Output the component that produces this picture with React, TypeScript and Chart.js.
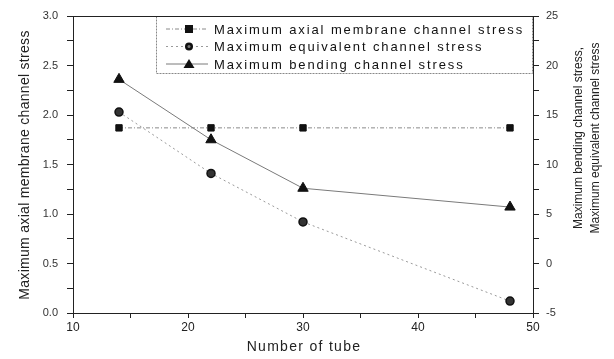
import React, { useEffect, useRef } from "react";
import { Chart, registerables } from "chart.js";

Chart.register(...registerables);

const tubes = [14, 22, 30, 48];
const axialMembrane = [1.87, 1.87, 1.87, 1.87];
const equivalentStress = [15.3, 9.1, 4.2, -3.8];
const bendingStress = [18.6, 12.5, 7.6, 5.7];

const seriesLabels = [
  "Maximum axial membrane channel stress",
  "Maximum equivalent channel stress",
  "Maximum bending channel stress",
];

const xTitle = "Number of tube";
const yLeftTitle = "Maximum axial membrane channel stress";
const yRightTitle = ["Maximum bending channel stress,", "Maximum equivalent channel stress"];

const FONT = "'Liberation Sans', Arial, sans-serif";

const legendPlugin = {
  id: "insideLegend",
  afterDraw(chart: any) {
    const { ctx, chartArea } = chart;
    const x0 = chartArea.left + 83;
    const y0 = chartArea.top;
    const w = chartArea.right - x0 - 1;
    const h = 57;
    ctx.save();
    ctx.strokeStyle = "#888";
    ctx.lineWidth = 1;
    ctx.setLineDash([2, 1]);
    ctx.strokeRect(x0 + 0.5, y0 + 0.5, w, h);
    ctx.setLineDash([]);
    chart.data.datasets.forEach((ds: any, i: number) => {
      const y = y0 + 13 + i * 17.5;
      ctx.strokeStyle = ds.borderColor;
      ctx.lineWidth = 1;
      ctx.setLineDash(ds.borderDash || []);
      ctx.beginPath();
      ctx.moveTo(x0 + 10, y);
      ctx.lineTo(x0 + 52, y);
      ctx.stroke();
      ctx.setLineDash([]);
      ctx.fillStyle = "#111";
      const cx = x0 + 33;
      if (ds.pointStyle === "rect") {
        ctx.fillRect(cx - 4, y - 4, 8, 8);
      } else if (ds.pointStyle === "triangle") {
        ctx.beginPath();
        ctx.moveTo(cx, y - 5);
        ctx.lineTo(cx + 5.5, y + 4);
        ctx.lineTo(cx - 5.5, y + 4);
        ctx.closePath();
        ctx.fill();
      } else {
        ctx.beginPath();
        ctx.arc(cx, y, 4, 0, Math.PI * 2);
        ctx.fill();
        ctx.fillStyle = "#777";
        ctx.beginPath();
        ctx.arc(cx, y, 1.5, 0, Math.PI * 2);
        ctx.fill();
      }
      ctx.fillStyle = "#111";
      ctx.font = `13px ${FONT}`;
      (ctx as any).letterSpacing = "1.9px";
      ctx.textBaseline = "middle";
      ctx.textAlign = "left";
      ctx.fillText(ds.label, x0 + 58, y + 1);
      (ctx as any).letterSpacing = "0px";
    });
    ctx.restore();
  },
};

const framePlugin = {
  id: "frameAndTitles",
  afterDraw(chart: any) {
    const { ctx, chartArea } = chart;
    ctx.save();
    ctx.strokeStyle = "#222";
    ctx.lineWidth = 1;
    ctx.beginPath();
    ctx.moveTo(chartArea.left, chartArea.top + 0.5);
    ctx.lineTo(chartArea.right, chartArea.top + 0.5);
    ctx.stroke();

    ctx.fillStyle = "#222";
    ctx.textAlign = "center";
    ctx.textBaseline = "middle";
    // x title
    ctx.font = `14px ${FONT}`;
    (ctx as any).letterSpacing = "1.3px";
    ctx.fillText(xTitle, 304, 347);
    // left title
    (ctx as any).letterSpacing = "0.3px";
    ctx.save();
    ctx.translate(25, 165);
    ctx.rotate(-Math.PI / 2);
    ctx.fillText(yLeftTitle, 0, 0);
    ctx.restore();
    // right title (two lines, reading bottom-to-top)
    ctx.font = `12px ${FONT}`;
    (ctx as any).letterSpacing = "0px";
    ctx.save();
    ctx.translate(579, 138);
    ctx.rotate(-Math.PI / 2);
    ctx.fillText(yRightTitle[0], 0, 0);
    ctx.fillText(yRightTitle[1], 0, 17);
    ctx.restore();
    ctx.restore();
  },
};

export default function App() {
  const ref = useRef<HTMLCanvasElement>(null);
  useEffect(() => {
    document.body.style.margin = "0";
    const mk = (ys: number[]) => tubes.map((x, i) => ({ x, y: ys[i] }));
    const chart = new Chart(ref.current!, {
      type: "line",
      data: {
        datasets: [
          {
            label: seriesLabels[0],
            data: mk(axialMembrane),
            yAxisID: "y",
            borderColor: "#8a8a8a",
            borderWidth: 1,
            borderDash: [4, 2, 1, 2],
            pointStyle: "rect",
            pointRadius: 4.5,
            backgroundColor: "#111",
            pointBorderColor: "#111",
          },
          {
            label: seriesLabels[1],
            data: mk(equivalentStress),
            yAxisID: "y1",
            borderColor: "#9a9a9a",
            borderWidth: 1,
            borderDash: [2, 3],
            pointStyle: "circle",
            pointRadius: 4,
            backgroundColor: "#333",
            pointBorderColor: "#111",
            pointBorderWidth: 1.5,
          },
          {
            label: seriesLabels[2],
            data: mk(bendingStress),
            yAxisID: "y1",
            borderColor: "#7a7a7a",
            borderWidth: 1,
            pointStyle: "triangle",
            pointRadius: 6,
            backgroundColor: "#111",
            pointBorderColor: "#111",
          },
        ],
      },
      options: {
        animation: false,
        responsive: false,
        layout: { padding: { top: 16, left: 0, right: 0, bottom: 0 } },
        plugins: { legend: { display: false }, tooltip: { enabled: false } },
        scales: {
          x: {
            type: "linear",
            min: 10,
            max: 50,
            afterFit: (s: any) => { s.height = 46; },
            ticks: {
              stepSize: 5,
              color: "#222",
              font: { family: FONT, size: 12 },
              callback: (v: any) => (Number(v) % 10 === 0 ? String(v) : ""),
              maxRotation: 0,
              autoSkip: false,
              padding: 2,
            },
            grid: { drawOnChartArea: false, tickLength: 5, color: "#222" },
            border: { color: "#222" },
          },
          y: {
            position: "left",
            min: 0,
            max: 3,
            afterFit: (s: any) => { s.width = 73; },
            ticks: {
              stepSize: 0.25,
              color: "#333",
              font: { family: FONT, size: 11 },
              callback: (v: any) => (Math.abs((Number(v) * 2) % 1) < 1e-6 ? Number(v).toFixed(1) : ""),
              autoSkip: false,
              padding: 9,
            },
            grid: { drawOnChartArea: false, tickLength: 6, color: "#222" },
            border: { color: "#222" },
          },
          y1: {
            position: "right",
            min: -5,
            max: 25,
            afterFit: (s: any) => { s.width = 81; },
            ticks: {
              stepSize: 2.5,
              color: "#333",
              font: { family: FONT, size: 11 },
              callback: (v: any) => (Number(v) % 5 === 0 ? String(v) : ""),
              autoSkip: false,
              padding: 7,
            },
            grid: { drawOnChartArea: false, tickLength: 6, color: "#222" },
            border: { color: "#222" },
          },
        },
      },
      plugins: [legendPlugin, framePlugin],
    } as any);
    return () => chart.destroy();
  }, []);
  return (
    <div style={{ width: 614, height: 359, background: "#fff" }}>
      <canvas ref={ref} width={614} height={359} style={{ display: "block" }} />
    </div>
  );
}
